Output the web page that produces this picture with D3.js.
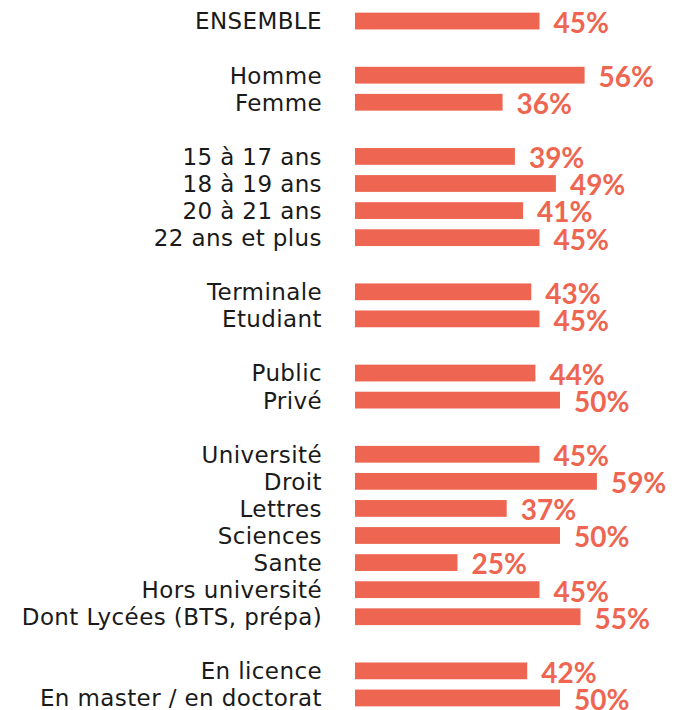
<!DOCTYPE html>
<html>
<head>
<meta charset="utf-8">
<script src="https://cdn.jsdelivr.net/npm/d3@7"></script>
<style>
  body { margin: 0; background: #fff; }
  svg { display: block; }
</style>
</head>
<body>
<svg id="chart" width="675" height="710"></svg>
<script>
// categories, grouped (blank row between groups)
var labels = ["ENSEMBLE",
  "Homme", "Femme",
  "15 à 17 ans", "18 à 19 ans", "20 à 21 ans", "22 ans et plus",
  "Terminale", "Etudiant",
  "Public", "Privé",
  "Université", "Droit", "Lettres", "Sciences", "Sante", "Hors université", "Dont Lycées (BTS, prépa)",
  "En licence", "En master / en doctorat"];
var values = [45, 56, 36, 39, 49, 41, 45, 43, 45, 44, 50, 45, 59, 37, 50, 25, 45, 55, 42, 50];
var groups = [0, 1, 1, 2, 2, 2, 2, 3, 3, 4, 4, 5, 5, 5, 5, 5, 5, 5, 6, 6];

var color = "#ee6652";

var svg = d3.select("#chart");

// slot index: each new group leaves one empty row
var slots = [], s = -1;
groups.forEach(function(g, i) {
  if (i > 0 && g !== groups[i - 1]) s++;
  s++;
  slots.push(s);
});

var y = d3.scaleBand()
  .domain(d3.range(s + 1))
  .range([7.5, 711.5])
  .paddingInner(0.38)
  .paddingOuter(0.19);

var x = d3.scaleLinear().domain([0, 100]).range([355, 765]);

var rows = svg.selectAll("g.row")
  .data(labels)
  .enter().append("g")
  .attr("class", "row")
  .attr("transform", function(d, i) { return "translate(0," + y(slots[i]) + ")"; });

rows.append("rect")
  .attr("x", x(0))
  .attr("y", 0)
  .attr("width", function(d, i) { return x(values[i]) - x(0); })
  .attr("height", y.bandwidth())
  .attr("fill", color);

rows.append("text")
  .attr("x", 322)
  .attr("y", y.bandwidth())
  .attr("text-anchor", "end")
  .style("font-family", "'DejaVu Sans', sans-serif")
  .style("font-size", "23px")
  .style("letter-spacing", "0.4px")
  .style("fill", "#1a1a1a")
  .text(function(d) { return d; });

rows.append("text")
  .attr("x", function(d, i) { return x(values[i]) + 14; })
  .attr("y", y.bandwidth() + 3.5)
  .style("font-family", "Lato, 'Open Sans', sans-serif")
  .style("font-weight", "bold")
  .style("font-size", "28px")
  .style("fill", color)
  .text(function(d, i) { return values[i] + "%"; });
</script>
</body>
</html>
